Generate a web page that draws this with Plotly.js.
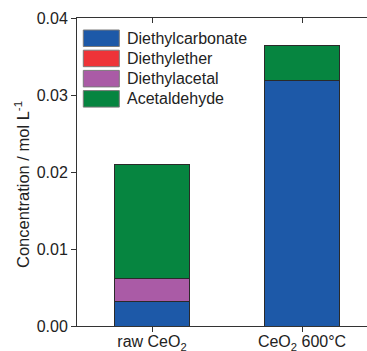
<!DOCTYPE html>
<html><head><meta charset="utf-8">
<script src="https://cdn.plot.ly/plotly-3.0.1.min.js"></script>
<style>html,body{margin:0;padding:0;background:#fff}</style>
</head><body>
<div id="chart" style="width:367px;height:351px"></div>
<script>
const categories = ['raw CeO<sub>2</sub>', 'CeO<sub>2</sub> 600°C'];
const seriesNames = ['Diethylcarbonate', 'Diethylether', 'Diethylacetal', 'Acetaldehyde'];
const diethylcarbonate = [0.0032, 0.0319];
const diethylether = [0.0, 0.0];
const diethylacetal = [0.0030, 0.0];
const acetaldehyde = [0.0148, 0.0045];
const colors = ['#1d59a8', '#ee3338', '#aa5ba6', '#068540'];
const yTicks = [0, 0.01, 0.02, 0.03, 0.04];
const yTitle = 'Concentration / mol L<sup>-1</sup>';

const seriesValues = [diethylcarbonate, diethylether, diethylacetal, acetaldehyde];
const xIdx = categories.map((c, i) => i);
const font = {family: 'Liberation Sans, Arial, sans-serif', size: 16, color: '#222'};

const traces = seriesValues.map((vals, i) => ({
  type: 'bar', x: xIdx, y: vals, name: seriesNames[i],
  marker: {color: colors[i], line: {color: '#2a2a2a', width: 1}},
  width: 0.5, showlegend: false, hoverinfo: 'skip'
}));
traces.push({type: 'scatter', x: xIdx, y: [0, 0], xaxis: 'x2', yaxis: 'y',
  mode: 'markers', marker: {opacity: 0}, showlegend: false, hoverinfo: 'skip'});

// legend drawn as swatches + labels (paper coordinates)
const plotW = 290, plotH = 308;
const shapes = [], annotations = [];
seriesNames.forEach((n, i) => {
  const top = 30 + i * 20.2 - 18, bot = top + 16.5;
  shapes.push({type: 'rect', xref: 'paper', yref: 'paper',
    x0: 6.3 / plotW, x1: 42.3 / plotW, y0: 1 - bot / plotH, y1: 1 - top / plotH,
    fillcolor: colors[i], line: {color: '#7a7a7a', width: 1}});
  annotations.push({xref: 'paper', yref: 'paper', x: 47.5 / plotW, y: 1 - (top + 8.3) / plotH,
    xanchor: 'left', yanchor: 'middle', text: n, showarrow: false, font: font});
});
annotations.push({xref: 'paper', yref: 'paper', x: (22 - 77) / plotW, y: 1 - (185 - 18) / plotH,
  xanchor: 'center', yanchor: 'middle', textangle: -90, text: yTitle, showarrow: false,
  font: {family: font.family, size: 16.5, color: '#222'}});

const xRange = [-0.5, 1.4333];
const layout = {
  width: 367, height: 351,
  margin: {l: 77, r: 0, t: 18, b: 25, pad: 0},
  paper_bgcolor: '#fff', plot_bgcolor: '#fff',
  barmode: 'stack', font: font,
  xaxis: {range: xRange, tickvals: xIdx, ticktext: categories, showgrid: false, zeroline: false,
    showline: true, linecolor: '#333', linewidth: 1, ticks: 'outside', ticklen: 5,
    tickcolor: '#333', tickfont: font, automargin: false, fixedrange: true, ticklabelstandoff: -4},
  xaxis2: {range: xRange, overlaying: 'x', side: 'top', anchor: 'y', tickvals: xIdx,
    showticklabels: false, showgrid: false, zeroline: false, showline: true,
    linecolor: '#333', linewidth: 1, ticks: 'inside', ticklen: 5, tickcolor: '#333', automargin: false},
  yaxis: {range: [0, 0.04], tickvals: yTicks, tickformat: '.2f', showgrid: false, zeroline: false,
    showline: true, linecolor: '#333', linewidth: 1, ticks: 'outside', ticklen: 5,
    tickcolor: '#333', tickfont: font, automargin: false},
  shapes: shapes, annotations: annotations
};
Plotly.newPlot('chart', traces, layout, {displayModeBar: false, staticPlot: true});
</script>
</body></html>
